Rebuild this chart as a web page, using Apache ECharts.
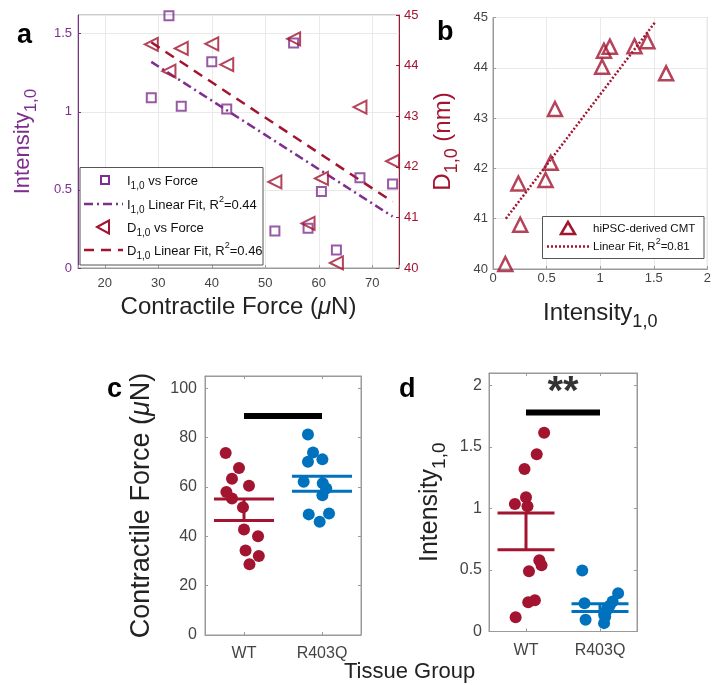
<!DOCTYPE html>
<html><head><meta charset="utf-8">
<script src="https://cdn.jsdelivr.net/npm/echarts@6/dist/echarts.min.js"></script>
<style>html,body{margin:0;padding:0;background:#fff}#c{width:714px;height:685px}</style>
</head><body><div id="c"></div>
<script>
// ---------------- data ----------------
const groups = ['WT', 'R403Q'];
// WT tissues (panel a, b, c-WT, d-WT)
const wtForce     = [28.7, 32.0, 34.3, 40.0, 42.8, 51.8, 55.3, 58.0, 60.5, 63.3, 67.7, 73.8];
const wtIntensity = [1.09, 1.615, 1.035, 1.32, 1.018, 0.237, 1.44, 0.254, 0.49, 0.115, 0.578, 0.538];
const wtSpacing   = [44.42, 43.89, 44.34, 44.43, 44.02, 41.70, 44.53, 40.88, 41.77, 40.10, 43.18, 42.11];
// linear fits (end points)
const fitIntensityForce = [[28.7, 1.32], [73.8, 0.33]];
const fitSpacingForce   = [[28.7, 44.46], [73.8, 41.31]];
const fitSpacingIntensity = [[0.12, 41.0], [1.51, 44.9]];
// swarm positions (category units) for panels c, d
const wtForceX     = [1.07, 1.19, 1.02, 1.18, 1.0, 0.987, 0.846, 0.774, 1.064, 0.846, 0.936, 0.765];
const wtIntensityX = [1.0, 1.245, 0.85, 0.98, 1.02, 1.03, 1.145, 1.12, 1.04, 0.86, 1.18, 1.21];
const mutForce     = [81.3, 74.0, 71.2, 70.2, 62.1, 61.5, 59.4, 56.7, 48.9, 49.3, 45.9];
const mutForceX    = [1.82, 1.885, 2.005, 1.82, 1.765, 2.01, 2.055, 2.005, 1.83, 2.09, 1.97];
const mutIntensity  = [0.496, 0.23, 0.095, 0.31, 0.244, 0.21, 0.19, 0.16, 0.136, 0.068, 0.12];
const mutIntensityX = [1.76, 1.79, 1.805, 2.245, 2.17, 2.13, 2.1, 2.08, 2.055, 2.055, 2.07];
// mean ± SEM lines
const forceSemLow  = [46.4, 58.3];
const forceSemHigh = [55.1, 64.4];
const intensitySemLow  = [0.664, 0.163];
const intensitySemHigh = [0.962, 0.225];
// significance bars
const forceSigY = 88.8;
const intensitySigY = 1.78;
const intensityStarY = 1.94;

// ---------------- style ----------------
const FONT = "'Liberation Sans', Arial, Helvetica, sans-serif";
const PURPLE = '#7E2F8E', RED = '#A2142F', BLUE = '#0072BD';
const TXT = '#444444', BOX = '#9a9a9a', GRIDC = '#e9e9e9';

function richFor(base, color) {
  return {
    sub: {fontSize: Math.round(base * 0.75), fontFamily: FONT, color: color, verticalAlign: 'bottom', lineHeight: Math.round(base * 0.6)},
    sup: {fontSize: Math.round(base * 0.7), fontFamily: FONT, color: color, verticalAlign: 'top', lineHeight: Math.round(base * 0.6)},
    mu: {fontSize: base, fontFamily: FONT, color: color, fontStyle: 'italic'}
  };
}

function axisBase(o) {
  return Object.assign({
    type: 'value',
    axisLine: {show: true, onZero: false, lineStyle: {color: BOX, width: 1}},
    axisTick: {show: true, inside: true, length: 3, lineStyle: {color: BOX}},
    axisLabel: {color: TXT, fontSize: 13, fontFamily: FONT},
    splitLine: {show: false}
  }, o);
}

const grids = [
  {left: 78, top: 15, width: 321, height: 253},
  {left: 493, top: 17.5, width: 220, height: 251.5},
  {left: 205, top: 376, width: 156, height: 259},
  {left: 489, top: 373, width: 148, height: 258.5}
].map(g => Object.assign({show: true, borderColor: BOX, borderWidth: 1, backgroundColor: '#fff', containLabel: false}, g));

const xAxes = [
  axisBase({gridIndex: 0, min: 15, max: 75, splitNumber: 6,
    axisLabel: {color: TXT, fontSize: 13, fontFamily: FONT, margin: 9, formatter: v => (v % 10 === 0 ? String(v) : '')},
    splitLine: {show: true, lineStyle: {color: GRIDC}},
    name: 'Contractile Force ({mu|μ}N)', nameLocation: 'middle', nameGap: 27,
    nameTextStyle: {fontSize: 24, color: '#222', fontFamily: FONT, rich: richFor(24, '#222')}}),
  axisBase({gridIndex: 1, min: 0, max: 2, interval: 0.5,
    axisLabel: {color: TXT, fontSize: 13, fontFamily: FONT, margin: 3},
    splitLine: {show: true, lineStyle: {color: GRIDC}},
    name: 'Intensity{sub|1,0}', nameLocation: 'middle', nameGap: 26,
    nameTextStyle: {fontSize: 24, color: '#222', fontFamily: FONT, lineHeight: 36, rich: richFor(24, '#222')}}),
  axisBase({gridIndex: 2, min: 0.5, max: 2.5, splitNumber: 2,
    axisLabel: {color: TXT, fontSize: 16, fontFamily: FONT, margin: 11, formatter: v => (v === 1 ? groups[0] : v === 2 ? groups[1] : '')}}),
  axisBase({gridIndex: 3, min: 0.5, max: 2.5, splitNumber: 2,
    axisLabel: {color: TXT, fontSize: 16, fontFamily: FONT, margin: 11, formatter: v => (v === 1 ? groups[0] : v === 2 ? groups[1] : '')}}),
  axisBase({gridIndex: 2, min: 0.5, max: 2.5, splitNumber: 2, position: 'top', axisLabel: {show: false}}),
  axisBase({gridIndex: 3, min: 0.5, max: 2.5, splitNumber: 2, position: 'top', axisLabel: {show: false}})
];

const yAxes = [
  axisBase({gridIndex: 0, min: 0, max: 1.62, interval: 0.5,
    axisLine: {show: true, onZero: false, lineStyle: {color: PURPLE}},
    axisTick: {show: true, inside: true, length: 3, lineStyle: {color: PURPLE}},
    axisLabel: {color: PURPLE, fontSize: 13, fontFamily: FONT, margin: 6, showMaxLabel: false},
    splitLine: {show: true, lineStyle: {color: GRIDC}},
    name: 'Intensity{sub|1,0}', nameLocation: 'middle', nameGap: 38, nameRotate: 90,
    nameTextStyle: {fontSize: 22, color: PURPLE, fontFamily: FONT, lineHeight: 34, rich: richFor(22, PURPLE)}}),
  axisBase({gridIndex: 0, min: 40, max: 45, interval: 1, position: 'right',
    axisLine: {show: true, onZero: false, lineStyle: {color: RED}},
    axisTick: {show: true, inside: true, length: 3, lineStyle: {color: RED}},
    axisLabel: {color: RED, fontSize: 13, fontFamily: FONT, margin: 5},
    name: 'D{sub|1,0} (nm)', nameLocation: 'middle', nameGap: 26, nameRotate: 90,
    nameTextStyle: {fontSize: 24, color: RED, fontFamily: FONT, lineHeight: 36, rich: richFor(24, RED)}}),
  axisBase({gridIndex: 1, min: 40, max: 45, interval: 1,
    axisLabel: {color: TXT, fontSize: 13, fontFamily: FONT, margin: 5},
    splitLine: {show: true, lineStyle: {color: GRIDC}}}),
  axisBase({gridIndex: 2, min: 0, max: 105, interval: 20,
    axisLabel: {color: TXT, fontSize: 16, fontFamily: FONT, margin: 8, showMaxLabel: false},
    name: 'Contractile Force ({mu|μ}N)', nameLocation: 'middle', nameGap: 50, nameRotate: 90,
    nameTextStyle: {fontSize: 27, color: '#222', fontFamily: FONT, rich: richFor(27, '#222')}}),
  axisBase({gridIndex: 3, min: 0, max: 2.1, interval: 0.5,
    axisLabel: {color: TXT, fontSize: 16, fontFamily: FONT, margin: 7, showMaxLabel: false},
    name: 'Intensity{sub|1,0}', nameLocation: 'middle', nameGap: 40, nameRotate: 90,
    nameTextStyle: {fontSize: 25, color: '#222', fontFamily: FONT, lineHeight: 38, rich: richFor(25, '#222')}}),
  axisBase({gridIndex: 2, min: 0, max: 105, interval: 20, position: 'right', axisLabel: {show: false}}),
  axisBase({gridIndex: 3, min: 0, max: 2.1, interval: 0.5, position: 'right', axisLabel: {show: false}})
];

const hollow = c => ({color: 'rgba(255,255,255,0)', borderColor: c, borderWidth: 2});

const series = [
  {name: 'I1,0 vs Force', type: 'scatter', xAxisIndex: 0, yAxisIndex: 0, symbol: 'rect', symbolSize: 9,
   itemStyle: hollow(PURPLE), data: wtForce.map((f, i) => [f, wtIntensity[i]]), z: 5},
  {name: 'I1,0 Linear Fit', type: 'line', xAxisIndex: 0, yAxisIndex: 0, symbol: 'none', data: fitIntensityForce,
   lineStyle: {color: PURPLE, width: 2.5, type: [9, 4, 2, 4]}, itemStyle: {color: PURPLE}, z: 3},
  {name: 'D1,0 vs Force', type: 'scatter', xAxisIndex: 0, yAxisIndex: 1, symbol: 'triangle', symbolRotate: 90, symbolSize: 13,
   itemStyle: hollow(RED), data: wtForce.map((f, i) => [f, wtSpacing[i]]), z: 5},
  {name: 'D1,0 Linear Fit', type: 'line', xAxisIndex: 0, yAxisIndex: 1, symbol: 'none', data: fitSpacingForce,
   lineStyle: {color: RED, width: 2.5, type: [10, 7]}, itemStyle: {color: RED}, z: 3},
  {name: 'hiPSC-derived CMT', type: 'scatter', xAxisIndex: 1, yAxisIndex: 2, symbol: 'triangle', symbolSize: 14,
   itemStyle: {color: 'rgba(255,255,255,0)', borderColor: RED, borderWidth: 2.5},
   data: wtIntensity.map((v, i) => [v, wtSpacing[i]]), z: 5},
  {name: 'Linear Fit', type: 'line', xAxisIndex: 1, yAxisIndex: 2, symbol: 'none', data: fitSpacingIntensity,
   lineStyle: {color: RED, width: 2.5, type: [2, 2]}, itemStyle: {color: RED}, z: 3},
  {type: 'scatter', xAxisIndex: 2, yAxisIndex: 3, symbol: 'circle', symbolSize: 12, itemStyle: {color: RED, opacity: 1},
   data: wtForce.map((v, i) => [wtForceX[i], v])},
  {type: 'scatter', xAxisIndex: 2, yAxisIndex: 3, symbol: 'circle', symbolSize: 12, itemStyle: {color: BLUE, opacity: 1},
   data: mutForce.map((v, i) => [mutForceX[i], v])},
  {type: 'scatter', xAxisIndex: 3, yAxisIndex: 4, symbol: 'circle', symbolSize: 12, itemStyle: {color: RED, opacity: 1},
   data: wtIntensity.map((v, i) => [wtIntensityX[i], v])},
  {type: 'scatter', xAxisIndex: 3, yAxisIndex: 4, symbol: 'circle', symbolSize: 12, itemStyle: {color: BLUE, opacity: 1},
   data: mutIntensity.map((v, i) => [mutIntensityX[i], v])}
];

function seg(xi, yi, pts, color, width, z) {
  return {type: 'line', xAxisIndex: xi, yAxisIndex: yi, symbol: 'none', silent: true, data: pts,
          lineStyle: {color: color, width: width, type: 'solid', cap: 'butt'}, z: z || 6};
}
const HALF = 0.385;
const gColors = [RED, BLUE];
groups.forEach((g, k) => {
  const cx = k + 1;
  [[2, 3, forceSemLow, forceSemHigh], [3, 4, intensitySemLow, intensitySemHigh]].forEach(([xi, yi, lo, hi]) => {
    series.push(seg(xi, yi, [[cx - HALF, hi[k]], [cx + HALF, hi[k]]], gColors[k], 3));
    series.push(seg(xi, yi, [[cx - HALF, lo[k]], [cx + HALF, lo[k]]], gColors[k], 3));
    series.push(seg(xi, yi, [[cx, lo[k]], [cx, hi[k]]], gColors[k], 3));
  });
});
series.push(seg(2, 3, [[1, forceSigY], [2, forceSigY]], '#000', 6));
series.push(seg(3, 4, [[1, intensitySigY], [2, intensitySigY]], '#000', 6));
series.push({type: 'scatter', xAxisIndex: 3, yAxisIndex: 4, symbol: 'circle', symbolSize: 2,
  itemStyle: {color: 'rgba(0,0,0,0)'}, silent: true, z: 10,
  data: [[1.5, intensityStarY]],
  label: {show: true, position: 'inside', formatter: '**', color: '#000', fontSize: 40, fontWeight: 'bold', fontFamily: FONT}});

// ---------------- legends (drawn as graphic elements) ----------------
const legendRich = {
  sub: {fontSize: 10, fontFamily: FONT, fill: '#111', verticalAlign: 'bottom', lineHeight: 8},
  sup: {fontSize: 9, fontFamily: FONT, fill: '#111', verticalAlign: 'top', lineHeight: 8}
};
function lgText(x, y, str, size) {
  return {type: 'text', x: x, y: y, z: 100,
    style: {text: str, fontSize: size, fontFamily: FONT, fill: '#111', align: 'left', verticalAlign: 'middle', lineHeight: 20, rich: legendRich}};
}
function lgLine(x1, x2, y, color, dash) {
  return {type: 'line', z: 100, shape: {x1: x1, y1: y, x2: x2, y2: y}, style: {stroke: color, lineWidth: 2.5, lineDash: dash}};
}
const legendA = [
  {type: 'rect', z: 99, shape: {x: 80, y: 167.5, width: 183, height: 97.5}, style: {fill: '#fff', stroke: '#555', lineWidth: 1}},
  {type: 'rect', z: 100, shape: {x: 101, y: 176, width: 8, height: 8}, style: {fill: 'none', stroke: PURPLE, lineWidth: 2}},
  lgText(127, 181, 'I{sub|1,0} vs Force', 13),
  lgLine(84, 123, 204, PURPLE, [9, 4, 2, 4]),
  lgText(127, 205, 'I{sub|1,0} Linear Fit, R{sup|2}=0.44', 13),
  {type: 'polygon', z: 100, shape: {points: [[97, 227], [109, 220.5], [109, 233.5]]}, style: {fill: 'none', stroke: RED, lineWidth: 2}},
  lgText(127, 228, 'D{sub|1,0} vs Force', 13),
  lgLine(84, 123, 250, RED, [10, 7]),
  lgText(127, 251, 'D{sub|1,0} Linear Fit, R{sup|2}=0.46', 13)
];
const legendB = [
  {type: 'rect', z: 99, shape: {x: 542.5, y: 216.5, width: 161.5, height: 42}, style: {fill: '#fff', stroke: '#555', lineWidth: 1}},
  {type: 'polygon', z: 100, shape: {points: [[568, 222], [561, 234], [575, 234]]}, style: {fill: 'none', stroke: RED, lineWidth: 2.5}},
  lgText(593, 229, 'hiPSC-derived CMT', 11.5),
  lgLine(547, 589, 246.5, RED, [2, 2]),
  lgText(593, 247, 'Linear Fit, R{sup|2}=0.81', 11.5)
];

const option = {
  animation: false,
  backgroundColor: '#fff',
  grid: grids,
  xAxis: xAxes,
  yAxis: yAxes,
  graphic: [
    {type: 'text', left: 17, top: 22, style: {text: 'a', fontSize: 27, fontWeight: 'bold', fontFamily: FONT, fill: '#000'}},
    {type: 'text', left: 437, top: 19, style: {text: 'b', fontSize: 27, fontWeight: 'bold', fontFamily: FONT, fill: '#000'}},
    {type: 'text', left: 107, top: 376, style: {text: 'c', fontSize: 27, fontWeight: 'bold', fontFamily: FONT, fill: '#000'}},
    {type: 'text', left: 399, top: 376, style: {text: 'd', fontSize: 27, fontWeight: 'bold', fontFamily: FONT, fill: '#000'}},
    {type: 'text', left: 344, top: 661, style: {text: 'Tissue Group', fontSize: 22, fontFamily: FONT, fill: '#222'}}
  ].concat(legendA, legendB),
  series: series
};

const chart = echarts.init(document.getElementById('c'), null, {renderer: 'canvas'});
chart.setOption(option);
</script>
</body></html>
